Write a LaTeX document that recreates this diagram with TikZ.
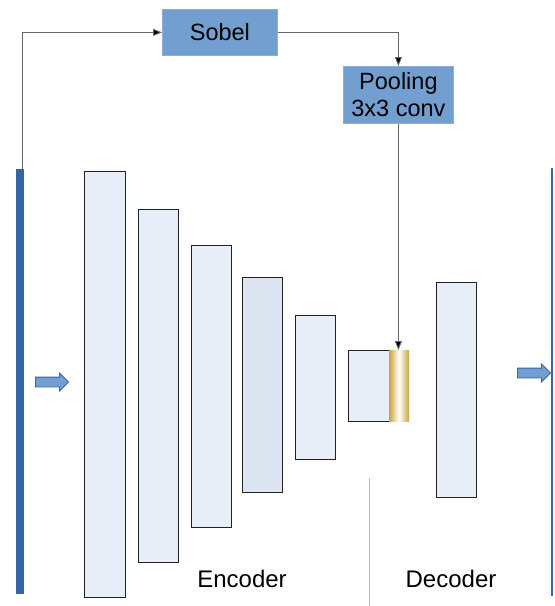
\documentclass[tikz,border=0pt]{standalone}
\usepackage{fontspec}
\setmainfont{Liberation Sans}
\usetikzlibrary{shapes.arrows,arrows.meta}

\definecolor{boxblue}{HTML}{729FCF}
\definecolor{boxedge}{HTML}{8AB0DA}
\definecolor{barblue}{HTML}{3465A4}
\definecolor{layerfill}{HTML}{E8EEF7}
\definecolor{layerdark}{HTML}{DCE5F1}
\definecolor{layeredge}{HTML}{222222}
\definecolor{wire}{HTML}{666666}
\definecolor{gold}{HTML}{C9A43C}
\definecolor{divider}{HTML}{A9BEDC}

\tikzset{
  layer/.style={draw=layeredge, line width=1.4pt, fill=layerfill, inner sep=0pt,
                anchor=north west},
  opbox/.style={draw=boxedge, line width=0.8pt, fill=boxblue, inner sep=0pt,
                anchor=north west, align=center, font=\fontsize{23.5}{27}\selectfont},
  bar/.style={fill=barblue, inner sep=0pt, anchor=north west},
  flow/.style={shape=single arrow, draw=barblue, line width=0.8pt, fill=boxblue,
               inner sep=4.5pt, minimum width=17pt, single arrow head extend=4pt},
  wireline/.style={draw=wire, line width=0.9pt},
  wirearrow/.style={wireline, -{Triangle[length=9pt,width=7pt,fill=black]}},
  caption/.style={font=\fontsize{24}{28}\selectfont}
}

\begin{document}
\begin{tikzpicture}[x=1pt,y=-1pt]
\useasboundingbox (0,0) rectangle (555,606);

% input and output image bars
\node[bar, minimum width=8pt, minimum height=425pt] (input) at (16,169) {};
\node[bar, minimum width=2.5pt, minimum height=428pt] (output) at (550.5,168) {};

% encoder layers
\node[layer, minimum width=41pt, minimum height=426pt] (e1) at (84,171) {};
\node[layer, minimum width=40pt, minimum height=353pt] (e2) at (138,209) {};
\node[layer, minimum width=40pt, minimum height=282pt] (e3) at (191,245) {};
\node[layer, fill=layerdark, minimum width=40pt, minimum height=215pt] (e4) at (242,277) {};
\node[layer, minimum width=40pt, minimum height=144pt] (e5) at (295,315) {};
\node[layer, minimum width=41pt, minimum height=71pt] (e6) at (348,350) {};

% fused edge features
\shade[left color=gold, right color=gold, middle color=white]
  (389,350) rectangle (409,421);
\node[inner sep=0pt, minimum width=20pt, minimum height=71pt, anchor=north west]
  (fuse) at (389,350) {};

% decoder layer
\node[layer, minimum width=40pt, minimum height=215pt] (d1) at (436,282) {};

% encoder/decoder divider
\coordinate (divtop) at (369,478);
\coordinate (divbot) at (369,606);
\draw[divider, line width=0.8pt] (divtop) -- (divbot);

% edge branch
\node[opbox, minimum width=115pt, minimum height=46pt] (sobel) at (162,9) {Sobel};
\node[opbox, minimum width=110pt, minimum height=57pt] (pool) at (343,66) {Pooling\\3x3 conv};

\draw[wirearrow] (input.north -| 22.5,0) |- (sobel.west);
\draw[wirearrow] (sobel.east) -| (pool.north);
\draw[wirearrow] (pool.south) -- (pool.south |- fuse.north);

% flow arrows
\node[flow, minimum height=33pt] (inarrow) at (49.5,382) {};
\node[flow, minimum height=33pt] (outarrow) at (531.5,373) {};

% captions
\node[caption] (enc) at (242,579) {Encoder};
\node[caption] (dec) at (451,579) {Decoder};
\end{tikzpicture}
\end{document}
